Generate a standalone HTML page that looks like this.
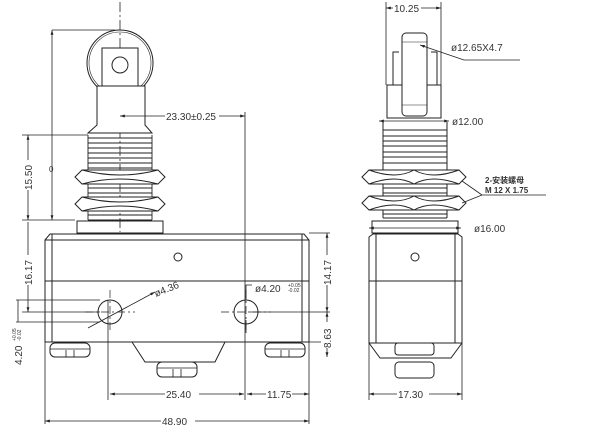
<!DOCTYPE html>
<html><head><style>body{margin:0;background:#fff}svg{display:block}text{font-family:"Liberation Sans","Noto Sans CJK SC",sans-serif;fill:#333}</style></head><body>
<svg width="600" height="433" viewBox="0 0 600 433" xmlns="http://www.w3.org/2000/svg" stroke="#222" fill="none" stroke-width="1">
<defs><marker id="a" viewBox="0 0 10 10" refX="10" refY="5" markerWidth="6" markerHeight="6" orient="auto-start-reverse"><path d="M0,2L10,5L0,8z" fill="#222" stroke="none"/></marker></defs>
<!-- LEFT VIEW -->
<line x1="120" y1="2" x2="120" y2="232" stroke-dasharray="10,3,2,3" stroke-width="0.8"/>
<circle cx="120" cy="63" r="33"/><circle cx="120" cy="63" r="31" stroke-width="0.6"/>
<rect x="102" y="48" width="36" height="38" fill="#fff"/>
<circle cx="120" cy="65" r="8"/>
<path d="M97,86H145V125L152,133H88L97,125Z" fill="#fff"/>
<g stroke-width="0.9">
<path d="M88,135V220M152,135V220"/>
<path d="M88,138H152M88,143H152M88,148H152M88,153H152M88,158H152M88,163H152M88,168H152M88,188H152M88,193H152M88,215H152M88,220H152"/>
</g>
<path d="M75,177L82,170H158L165,177L158,184H82Z" fill="#fff"/><path d="M82,170Q120,180 158,170M82,184Q120,174 158,184"/>
<path d="M75,204L82,197H158L165,204L158,211H82Z" fill="#fff"/><path d="M82,197Q120,207 158,197M82,211Q120,201 158,211"/>
<rect x="77" y="221" width="86" height="12"/>
<path d="M45,240L50,234H304L309,240V342H45Z" fill="#fff"/>
<path d="M52,234V342M302,234V342M45,240H309M45,281H309"/>
<circle cx="178" cy="257" r="4"/>
<circle cx="110" cy="312" r="12"/><circle cx="246" cy="312" r="12"/>
<path d="M85,312H135M110,290V332M221,312H271M246,290V330" stroke-dasharray="8,3,2,3" stroke-width="0.7"/>
<path d="M132,342L145,362H215L225,342"/>
<g fill="#fff"><rect x="50" y="343" width="40" height="14" rx="5"/><rect x="157" y="362" width="40" height="15" rx="5"/><rect x="265" y="343" width="40" height="14" rx="5"/></g>
<path d="M66,350V357M74,350V357M173,369V377M181,369V377M281,350V357M289,350V357M50,349H90M157,368H197M265,349H305" stroke-width="0.8"/>
<!-- dims left -->
<g stroke-width="0.8">
<path d="M52,30H115M52,220H75M22,135H88M22,220H75"/>
<line x1="52" y1="30" x2="52" y2="220" marker-start="url(#a)" marker-end="url(#a)"/>
<line x1="28" y1="135" x2="28" y2="220" marker-start="url(#a)" marker-end="url(#a)"/>
<line x1="28" y1="222" x2="28" y2="312" marker-end="url(#a)"/>
<path d="M22,312H100M16,300H100M16,322H100"/>
<line x1="18" y1="300" x2="18" y2="322"/>
<line x1="120" y1="116" x2="245" y2="116" marker-start="url(#a)" marker-end="url(#a)"/>
<path d="M245,112V400M108,300V400M309,342V424M45,342V424M225,342H330M250,312H330M309,233H330"/>
<line x1="327" y1="233" x2="327" y2="312" marker-start="url(#a)" marker-end="url(#a)"/>
<line x1="327" y1="312" x2="327" y2="357" marker-start="url(#a)" marker-end="url(#a)"/>
<line x1="110" y1="394" x2="244" y2="394" marker-start="url(#a)" marker-end="url(#a)"/>
<line x1="247" y1="394" x2="309" y2="394" marker-start="url(#a)" marker-end="url(#a)"/>
<line x1="45" y1="421" x2="309" y2="421" marker-start="url(#a)" marker-end="url(#a)"/>
<line x1="88" y1="328" x2="155" y2="292" marker-end="url(#a)"/>
<path d="M246,320L246,333M246,300V285H252"/>
</g>
<g font-size="10" stroke="none">
<rect x="165" y="110" width="54" height="12" fill="#fff"/><text x="166" y="120">23.30±0.25</text>
<text x="156" y="297" transform="rotate(-22 156 297)">ø4.36</text>
<text x="255" y="292">ø4.20</text><text x="288" y="287" font-size="5">+0.05</text><text x="288" y="292" font-size="5">-0.02</text>
<rect x="165" y="389" width="34" height="12" fill="#fff"/><text x="166" y="398">25.40</text>
<rect x="266" y="389" width="26" height="12" fill="#fff"/><text x="267" y="398">11.75</text>
<rect x="161" y="415" width="34" height="12" fill="#fff"/><text x="162" y="425">48.90</text>
<g fill="#fff"><rect x="22" y="160" width="12" height="30"/><rect x="22" y="255" width="12" height="30"/><rect x="321" y="255" width="12" height="30"/><rect x="321" y="322" width="12" height="26"/></g>
<text transform="translate(32,190) rotate(-90)">15.50</text>
<text transform="translate(32,285) rotate(-90)">16.17</text>
<text transform="translate(331,285) rotate(-90)">14.17</text>
<text transform="translate(331,348) rotate(-90)">8.63</text>
<text transform="translate(22,365) rotate(-90)">4.20</text><text transform="translate(16,341) rotate(-90)" font-size="5">+0.05</text><text transform="translate(21,341) rotate(-90)" font-size="5">-0.02</text>
<text x="49" y="172" font-size="8">0</text>
</g>
<!-- RIGHT VIEW -->
<path d="M399,52H393V85H437V52H431" />
<path d="M387,85H441V118H387Z" fill="#fff"/>
<rect x="402" y="33" width="25" height="83" rx="4" fill="#fff"/><path d="M402,42H427M402,105H427" stroke-width="0.6"/>
<path d="M383,122V218M447,122V218"/>
<path d="M383,130H447M383,136H447M383,141H447M383,146H447M383,152H447M383,157H447M383,163H447M383,188H447M383,193H447M383,214H447M383,218H447" stroke-width="0.9"/>
<path d="M362,177L369,170H459L466,177L459,184H369Z" fill="#fff"/><path d="M369,170Q396,180 414,170Q432,180 459,170M369,184Q396,174 414,184Q432,174 459,184"/>
<path d="M362,203L369,196H459L466,203L459,210H369Z" fill="#fff"/><path d="M369,196Q396,206 414,196Q432,206 459,196M369,210Q396,200 414,210Q432,200 459,210"/>
<rect x="372" y="221" width="86" height="12"/>
<path d="M369,237L373,234H458L462,237V343H369Z" fill="#fff"/>
<path d="M376,234V343M455,234V343M369,281H462"/>
<circle cx="415" cy="257" r="4"/>
<path d="M369,343L380,358H451L462,343"/>
<rect x="395" y="343" width="39" height="12" rx="3" fill="#fff"/><rect x="395" y="362" width="39" height="16" rx="4" fill="#fff"/>
<g stroke-width="0.8">
<path d="M386,2V85M441,2V85M369,343V400M462,343V400M464,60H520"/>
<line x1="386" y1="8" x2="441" y2="8" marker-start="url(#a)" marker-end="url(#a)"/>
<line x1="464" y1="60" x2="420" y2="45" marker-end="url(#a)"/>
<line x1="379" y1="121" x2="449" y2="121" marker-start="url(#a)" marker-end="url(#a)"/>
<line x1="369" y1="228" x2="461" y2="228" marker-start="url(#a)" marker-end="url(#a)"/>
<line x1="369" y1="394" x2="462" y2="394" marker-start="url(#a)" marker-end="url(#a)"/>
<path d="M482,195H546M482,195L462,181M482,195L462,203"/>
</g>
<g font-size="10" stroke="none">
<rect x="393" y="3" width="28" height="11" fill="#fff"/><text x="394" y="12">10.25</text>
<text x="451" y="51">ø12.65X4.7</text>
<text x="452" y="125">ø12.00</text>
<text x="474" y="232">ø16.00</text>
<rect x="397" y="388" width="32" height="12" fill="#fff"/><text x="398" y="398">17.30</text>
<text x="485" y="183" font-size="8" font-weight="bold">2-安装螺母</text>
<text x="485" y="193" font-size="8" font-weight="bold">M 12 X 1.75</text>
</g>
</svg>
</body></html>
